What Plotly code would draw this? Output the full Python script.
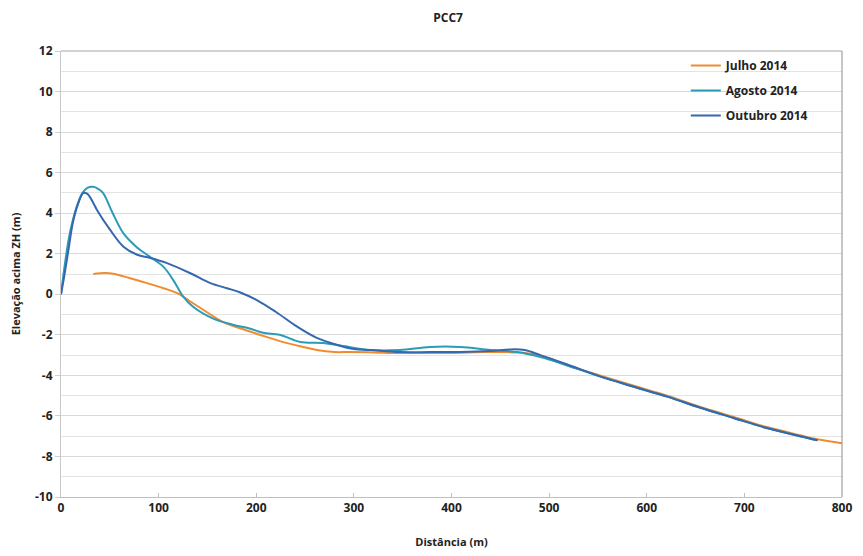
import plotly.graph_objects as go

title = "PCC7"
x_title = "Distância (m)"
y_title = "Elevação acima ZH (m)"
series_names = ["Julho 2014", "Agosto 2014", "Outubro 2014"]
series_colors = ["#F08C2E", "#2A9CB8", "#3568AE"]

julho_x = [33, 45, 55, 70, 88, 105, 119, 135, 150, 166, 185, 207, 227, 248, 262, 280, 296, 320,
           347, 370, 399, 432, 450, 467, 484, 500, 518, 552, 586, 621, 655, 689, 723, 757, 775, 800]
julho_y = [1.0, 1.05, 1.0, 0.8, 0.55, 0.3, 0.06, -0.43, -0.9, -1.37, -1.7, -2.05, -2.35, -2.6,
           -2.75, -2.85, -2.85, -2.87, -2.9, -2.9, -2.9, -2.85, -2.85, -2.87, -2.95, -3.15, -3.5,
           -4.0, -4.5, -5.0, -5.56, -6.05, -6.55, -6.95, -7.15, -7.35]

agosto_x = [0, 4, 9, 16, 22, 27, 33, 38, 43, 53, 64, 77, 91, 105, 115, 125, 135, 156, 176, 194,
            207, 224, 245, 268, 289, 317, 347, 378, 409, 440, 467, 491, 518, 552, 586, 621, 655,
            689, 723, 757, 775]
agosto_y = [0.0, 1.5, 3.0, 4.3, 5.0, 5.25, 5.3, 5.2, 5.0, 4.0, 3.0, 2.35, 1.85, 1.35, 0.7, -0.1,
            -0.6, -1.2, -1.5, -1.7, -1.9, -2.0, -2.35, -2.4, -2.55, -2.75, -2.75, -2.6, -2.6,
            -2.75, -2.85, -3.1, -3.5, -4.05, -4.55, -5.05, -5.6, -6.1, -6.6, -7.0, -7.2]

outubro_x = [0, 3, 8, 12, 17, 23, 27, 32, 37, 50, 64, 78, 91, 108, 132, 153, 170, 183, 201, 221,
             242, 262, 283, 300, 317, 347, 378, 409, 440, 460, 475, 491, 518, 552, 586, 621, 655,
             689, 723, 757, 775]
outubro_y = [0.0, 0.8, 2.3, 3.5, 4.4, 5.0, 4.95, 4.6, 4.15, 3.2, 2.35, 1.95, 1.8, 1.55, 1.05,
             0.55, 0.3, 0.1, -0.3, -0.9, -1.6, -2.15, -2.5, -2.7, -2.75, -2.85, -2.85, -2.85,
             -2.8, -2.72, -2.75, -3.0, -3.45, -4.05, -4.55, -5.05, -5.6, -6.1, -6.6, -7.0, -7.2]

x_ticks = [0, 100, 200, 300, 400, 500, 600, 700, 800]
y_ticks = [12, 10, 8, 6, 4, 2, 0, -2, -4, -6, -8, -10]

font_family = "Open Sans, Liberation Sans, sans-serif"

fig = go.Figure()
for name, color, xs, ys in zip(series_names, series_colors,
                               [julho_x, agosto_x, outubro_x],
                               [julho_y, agosto_y, outubro_y]):
    fig.add_trace(go.Scatter(x=xs, y=ys, mode="lines", name="<b>" + name + "</b>",
                             legendgroup=name,
                             line=dict(color=color, width=2, shape="spline", smoothing=1.0)))

fig.update_layout(
    width=863, height=556,
    paper_bgcolor="white", plot_bgcolor="white",
    margin=dict(l=53, r=29, t=43, b=67, autoexpand=False),
    title=dict(text="<b>" + title + "</b>", x=0.51, xanchor="center", y=0.99, yanchor="top",
               font=dict(family=font_family, size=12, color="#222")),
    font=dict(family=font_family, size=12, color="#222"),
    legend=dict(x=0.80, y=1.0, xanchor="left", yanchor="top", bgcolor="rgba(0,0,0,0)",
                font=dict(size=12, color="#222", family=font_family),
                tracegroupgap=6, itemwidth=30),
    showlegend=True,
)
fig.update_xaxes(
    range=[0, 800], tickvals=x_ticks, ticktext=["<b>%d</b>" % v for v in x_ticks],
    showgrid=False, zeroline=False, showline=True, linecolor="#bfbfbf", linewidth=1,
    ticks="inside", ticklen=4, tickcolor="#bfbfbf", automargin=False,
    title=dict(text="<b>" + x_title + "</b>", font=dict(size=11), standoff=22),
    tickfont=dict(size=12),
)
fig.update_yaxes(
    range=[-10, 12], tickvals=y_ticks, ticktext=["<b>%d</b>" % v for v in y_ticks],
    showgrid=True, gridcolor="#d9d9d9", gridwidth=1, zeroline=False,
    showline=True, linecolor="#c8c8c8", linewidth=1, automargin=False,
    ticks="outside", ticklen=5, tickcolor="#d0d0d0",
    minor=dict(tickvals=[11, 9, 7, 5, 3, 1, -1, -3, -5, -7, -9], showgrid=True,
               gridcolor="#e3e3e3", gridwidth=1),
    title=dict(text="<b>" + y_title + "</b>", font=dict(size=11), standoff=18),
    tickfont=dict(size=12),
)
fig.add_shape(type="line", xref="paper", yref="paper", x0=1, x1=1, y0=0, y1=1,
              line=dict(color="#8c8c8c", width=1))
fig.add_shape(type="line", xref="paper", yref="paper", x0=0, x1=1, y0=1, y1=1,
              line=dict(color="#a6a6a6", width=1))

fig.write_html("out.html")
